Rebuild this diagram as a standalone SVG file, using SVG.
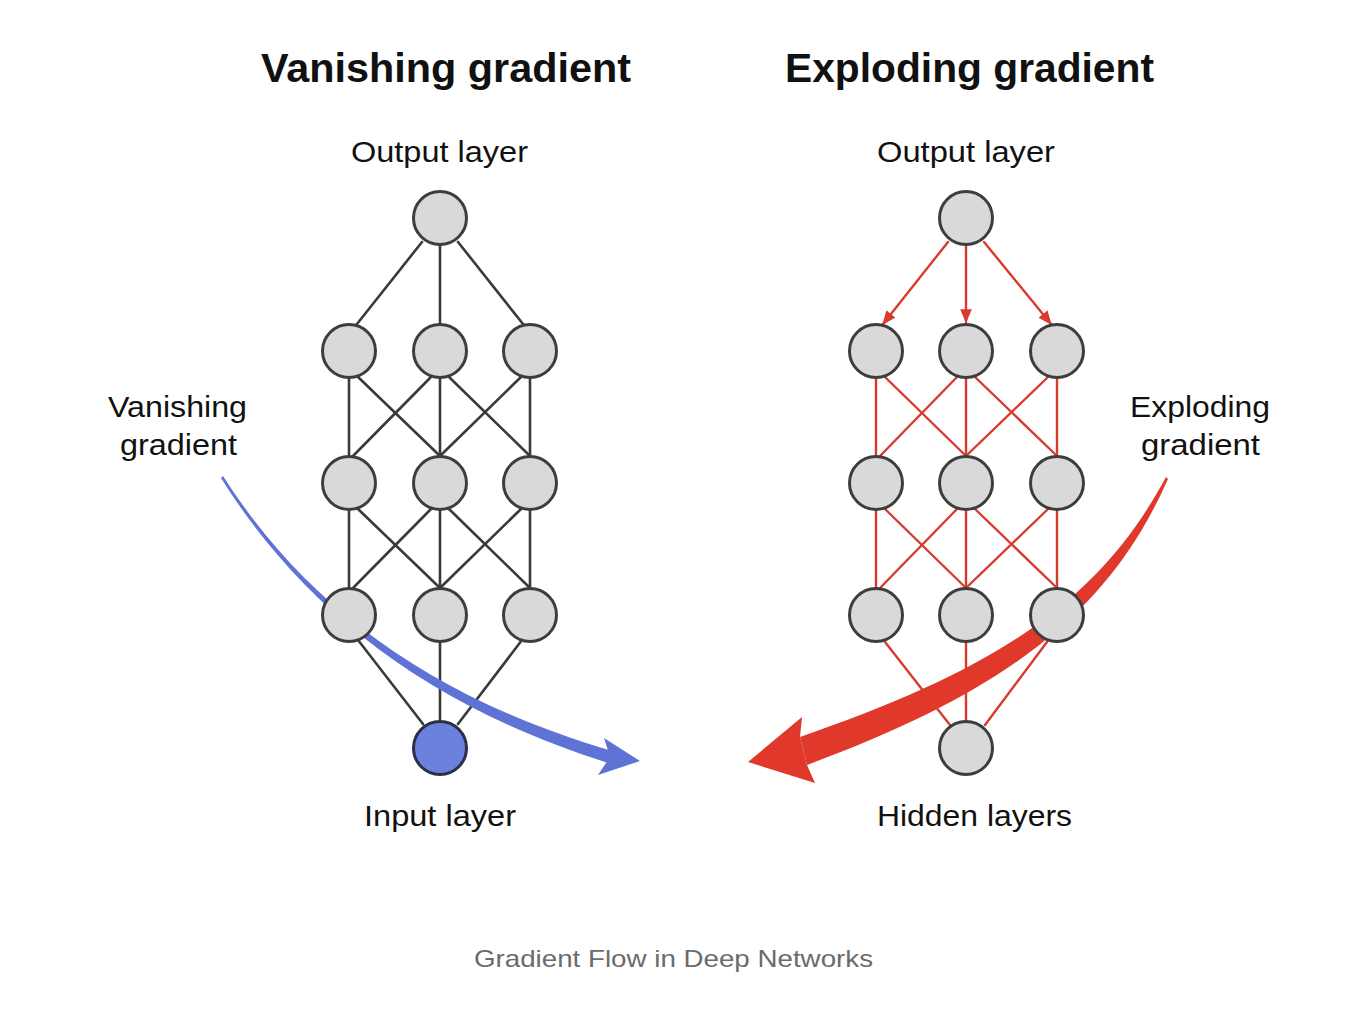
<svg xmlns="http://www.w3.org/2000/svg" width="1360" height="1014" viewBox="0 0 1360 1014">
<style>
.t{font-family:"Liberation Sans",Arial,sans-serif;fill:#111;text-anchor:middle}
.title{font-size:41px;font-weight:bold}
.lbl{font-size:30px}
.cap{font-size:24px;fill:#6b6b6b}
.node{fill:#d9d9d9;stroke:#3d3d3d;stroke-width:3}
.inp{fill:#6c80dd;stroke:#2c2f45;stroke-width:3}
.bk line{stroke:#3a3a3a;stroke-width:2.6;stroke-linecap:round}
.rd line{stroke:#d93a2e;stroke-width:2.4;stroke-linecap:round}
</style>
<defs>
<marker id="ah" viewBox="0 0 12 10" refX="11" refY="5" markerWidth="14" markerHeight="12" markerUnits="userSpaceOnUse" orient="auto">
<path d="M0,0 L12,5 L0,10 z" fill="#d93a2e"/>
</marker>
</defs>
<rect width="1360" height="1014" fill="#ffffff"/>

<g id="texts">
<text class="t title" x="446" y="82" textLength="370" lengthAdjust="spacingAndGlyphs">Vanishing gradient</text>
<text class="t title" x="969.5" y="82" textLength="369" lengthAdjust="spacingAndGlyphs">Exploding gradient</text>
<text class="t lbl" x="439.5" y="162" textLength="177" lengthAdjust="spacingAndGlyphs">Output layer</text>
<text class="t lbl" x="966" y="162" textLength="178" lengthAdjust="spacingAndGlyphs">Output layer</text>
<text class="t lbl" x="177.5" y="417" textLength="139" lengthAdjust="spacingAndGlyphs">Vanishing</text>
<text class="t lbl" x="178.5" y="455" textLength="117" lengthAdjust="spacingAndGlyphs">gradient</text>
<text class="t lbl" x="1200" y="417" textLength="140" lengthAdjust="spacingAndGlyphs">Exploding</text>
<text class="t lbl" x="1200.5" y="455" textLength="119" lengthAdjust="spacingAndGlyphs">gradient</text>
<text class="t lbl" x="440" y="826" textLength="152" lengthAdjust="spacingAndGlyphs">Input layer</text>
<text class="t lbl" x="974.5" y="826" textLength="195" lengthAdjust="spacingAndGlyphs">Hidden layers</text>
<text class="t cap" x="673.5" y="967" textLength="399" lengthAdjust="spacingAndGlyphs">Gradient Flow in Deep Networks</text>
</g>

<g id="connectors">
<g class="bk">
<line x1="422" y1="242" x2="357" y2="324"/>
<line x1="440" y1="245" x2="440" y2="324"/>
<line x1="458" y1="242" x2="523" y2="324"/>
<line x1="349" y1="378" x2="349" y2="456"/>
<line x1="358" y1="377" x2="440" y2="456"/>
<line x1="431" y1="377" x2="353" y2="456"/>
<line x1="440" y1="378" x2="440" y2="456"/>
<line x1="449" y1="377" x2="530" y2="456"/>
<line x1="521" y1="377" x2="440" y2="456"/>
<line x1="530" y1="378" x2="530" y2="456"/>
<line x1="349" y1="510" x2="349" y2="588"/>
<line x1="358" y1="509" x2="440" y2="588"/>
<line x1="431" y1="509" x2="353" y2="588"/>
<line x1="440" y1="510" x2="440" y2="588"/>
<line x1="449" y1="509" x2="530" y2="588"/>
<line x1="521" y1="509" x2="440" y2="588"/>
<line x1="530" y1="510" x2="530" y2="588"/>
<line x1="358" y1="640" x2="423" y2="724"/>
<line x1="440" y1="642" x2="440" y2="721"/>
<line x1="522" y1="640" x2="458" y2="724"/>
</g>
<g class="rd">
<line x1="948" y1="242" x2="883" y2="324" marker-end="url(#ah)"/>
<line x1="966" y1="245" x2="966" y2="322" marker-end="url(#ah)"/>
<line x1="984" y1="242" x2="1051" y2="324" marker-end="url(#ah)"/>
<line x1="876" y1="378" x2="876" y2="456"/>
<line x1="885" y1="377" x2="966" y2="456"/>
<line x1="957" y1="377" x2="880" y2="456"/>
<line x1="966" y1="378" x2="966" y2="456"/>
<line x1="975" y1="377" x2="1057" y2="456"/>
<line x1="1048" y1="377" x2="966" y2="456"/>
<line x1="1057" y1="378" x2="1057" y2="456"/>
<line x1="876" y1="510" x2="876" y2="588"/>
<line x1="885" y1="509" x2="966" y2="588"/>
<line x1="957" y1="509" x2="880" y2="588"/>
<line x1="966" y1="510" x2="966" y2="588"/>
<line x1="975" y1="509" x2="1057" y2="588"/>
<line x1="1048" y1="509" x2="966" y2="588"/>
<line x1="1057" y1="510" x2="1057" y2="588"/>
<line x1="885" y1="642" x2="950" y2="725"/>
<line x1="966" y1="642" x2="966" y2="721"/>
<line x1="1047" y1="642" x2="985" y2="725"/>
</g>
<g id="vanishing-arrow" fill="#5f72d6">
<path d="M223,476 C301,598 421,695 612,751 L608,763 C418,703 299,602 221,478 Z"/>
<polygon points="604,738 640,761 598,775 610,757"/>
</g>
<g id="exploding-arrow" fill="#e0392b">
<path d="M1166,477 C1100,600 1000,668 800,737 L807,765 C1010,690 1110,610 1168,479 Z"/>
<polygon points="748,762 802,717 800,737 807,765 815,783"/>
</g>
</g>

<g id="left-network">
<circle id="l-out" class="node" cx="440" cy="218" r="26.5"/>
<circle id="l-h1a" class="node" cx="349" cy="351" r="26.5"/>
<circle id="l-h1b" class="node" cx="440" cy="351" r="26.5"/>
<circle id="l-h1c" class="node" cx="530" cy="351" r="26.5"/>
<circle id="l-h2a" class="node" cx="349" cy="483" r="26.5"/>
<circle id="l-h2b" class="node" cx="440" cy="483" r="26.5"/>
<circle id="l-h2c" class="node" cx="530" cy="483" r="26.5"/>
<circle id="l-h3a" class="node" cx="349" cy="615" r="26.5"/>
<circle id="l-h3b" class="node" cx="440" cy="615" r="26.5"/>
<circle id="l-h3c" class="node" cx="530" cy="615" r="26.5"/>
<circle id="l-in" class="inp" cx="440" cy="748" r="26.5"/>
</g>

<g id="right-network">
<circle id="r-out" class="node" cx="966" cy="218" r="26.5"/>
<circle id="r-h1a" class="node" cx="876" cy="351" r="26.5"/>
<circle id="r-h1b" class="node" cx="966" cy="351" r="26.5"/>
<circle id="r-h1c" class="node" cx="1057" cy="351" r="26.5"/>
<circle id="r-h2a" class="node" cx="876" cy="483" r="26.5"/>
<circle id="r-h2b" class="node" cx="966" cy="483" r="26.5"/>
<circle id="r-h2c" class="node" cx="1057" cy="483" r="26.5"/>
<circle id="r-h3a" class="node" cx="876" cy="615" r="26.5"/>
<circle id="r-h3b" class="node" cx="966" cy="615" r="26.5"/>
<circle id="r-h3c" class="node" cx="1057" cy="615" r="26.5"/>
<circle id="r-in" class="node" cx="966" cy="748" r="26.5"/>
</g>
</svg>
